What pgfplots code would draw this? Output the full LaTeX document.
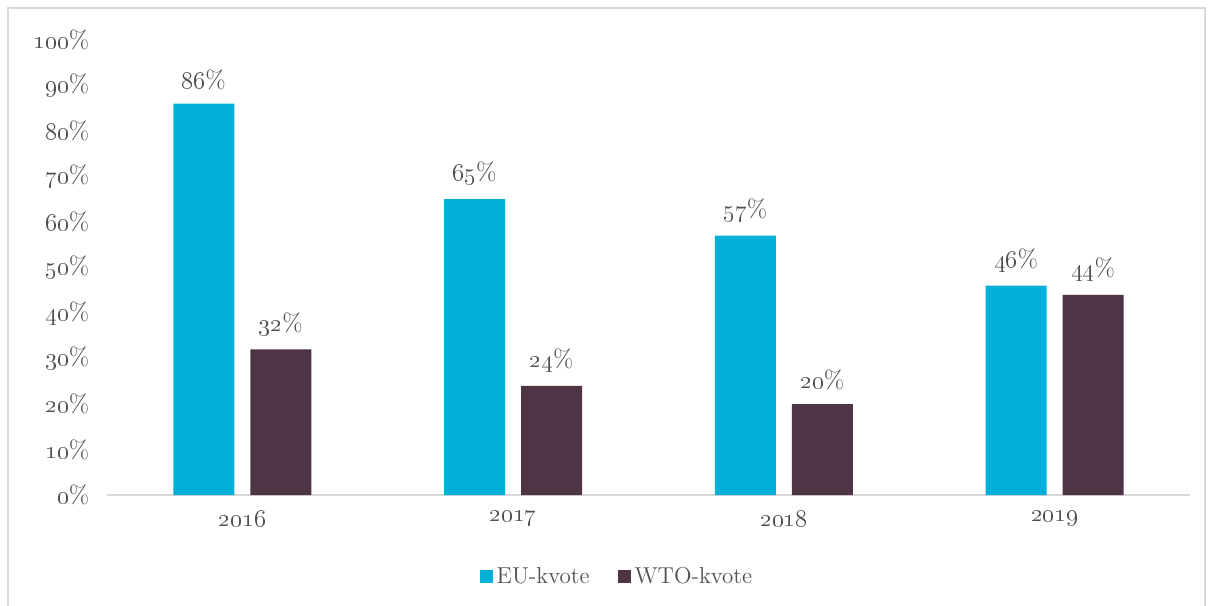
\documentclass[border=0pt]{standalone}
\usepackage{pgfplots}
\pgfplotsset{compat=1.18}
\definecolor{eu}{RGB}{0,176,216}
\definecolor{wto}{RGB}{78,53,70}
\definecolor{txt}{RGB}{80,80,80}
\definecolor{axl}{RGB}{217,217,217}
\begin{document}
\fontsize{11}{13}\selectfont
\begin{tikzpicture}
\useasboundingbox (-53.5pt,-55pt) rectangle (550.5pt,247.5pt);
\draw[axl, line width=0.8pt] (-49.5pt,-70pt) -- (-49.5pt,243.5pt) -- (549pt,243.5pt) -- (549pt,-70pt);
\begin{axis}[
  at={(0pt,0pt)}, anchor=south west,
  scale only axis, width=541.5pt, height=227.5pt,
  xmin=-0.5, xmax=3.5, ymin=0, ymax=100,
  ybar, bar width=30.5pt,
  separate axis lines,
  axis x line*=bottom, axis y line*=left,
  y axis line style={draw=none},
  x axis line style={draw=axl, line width=1pt},
  major tick length=0pt,
  xtick={0,1,2,3},
  xticklabels={\oldstylenums{2016},\oldstylenums{2017},\oldstylenums{2018},\oldstylenums{2019}},
  ytick={0,10,...,100},
  yticklabel={\oldstylenums{\pgfmathprintnumber[assume math mode=true]{\tick}}\%},
  tick label style={text=txt, font=\fontsize{12.5}{14}\selectfont},
  xticklabel style={yshift=-4pt},
  yticklabel style={xshift=-5pt},
  nodes near coords={\oldstylenums{\pgfmathprintnumber[assume math mode=true]{\pgfplotspointmeta}}\%},
  every node near coord/.append style={text=txt, font=\fontsize{12.5}{14}\selectfont, yshift=3pt},
  legend columns=2,
  legend style={at={(axis description cs:0.4718,-0.18)}, anchor=center, draw=none, fill=none,
    text=txt, font=\fontsize{11.5}{13}\selectfont,
    /tikz/every even column/.append style={column sep=12pt}},
  legend image code/.code={\draw[#1, draw=none] (0pt,-3pt) rectangle (6.5pt,3.5pt);},
]
\addplot[fill=eu, draw=none, bar shift=-19.25pt] coordinates {(0,86) (1,65) (2,57) (3,46)};
\addplot[fill=wto, draw=none, bar shift=19.25pt] coordinates {(0,32) (1,24) (2,20) (3,44)};
\legend{EU-kvote,WTO-kvote}
\end{axis}
\end{tikzpicture}
\end{document}
